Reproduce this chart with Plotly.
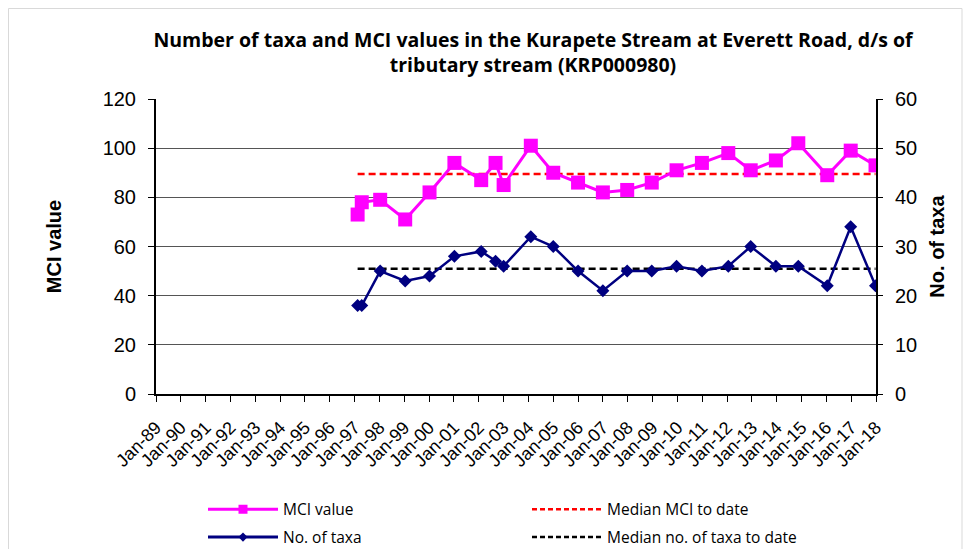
import plotly.graph_objects as go

sample_dates = [
    "1997-02-14", "1997-04-16", "1998-01-12", "1999-01-15", "2000-01-08",
    "2001-01-08", "2002-02-06", "2002-09-05", "2003-01-02", "2004-02-06",
    "2005-01-01", "2006-01-01", "2007-01-01", "2007-12-25", "2008-12-20",
    "2009-12-20", "2010-12-28", "2012-01-20", "2012-12-15", "2013-12-20",
    "2014-11-15", "2016-01-15", "2016-12-25", "2017-12-25",
]
mci_values = [73, 78, 79, 71, 82, 94, 87, 94, 85, 101, 90, 86, 82, 83, 86,
              91, 94, 98, 91, 95, 102, 89, 99, 93]
taxa_values = [18, 18, 25, 23, 24, 28, 29, 27, 26, 32, 30, 25, 21, 25, 25,
               26, 25, 26, 30, 26, 26, 22, 34, 22]
median_mci = 89.5
median_taxa = 25.5

tick_dates = [f"{y}-01-01" for y in range(1989, 2019)]
tick_labels = ["Jan-89", "Jan-90", "Jan-91", "Jan-92", "Jan-93", "Jan-94",
               "Jan-95", "Jan-96", "Jan-97", "Jan-98", "Jan-99", "Jan-00",
               "Jan-01", "Jan-02", "Jan-03", "Jan-04", "Jan-05", "Jan-06",
               "Jan-07", "Jan-08", "Jan-09", "Jan-10", "Jan-11", "Jan-12",
               "Jan-13", "Jan-14", "Jan-15", "Jan-16", "Jan-17", "Jan-18"]

MAGENTA = "#FF00FF"
NAVY = "#000080"
RED = "#FF0000"
BLACK = "#000000"
DASH = "7px,4px"

fig = go.Figure()

# median lines
fig.add_trace(go.Scatter(x=[sample_dates[0], sample_dates[-1]], y=[median_mci, median_mci],
                         mode="lines", line=dict(color=RED, width=2.5, dash=DASH),
                         showlegend=False, yaxis="y"))
fig.add_trace(go.Scatter(x=[sample_dates[0], sample_dates[-1]], y=[median_taxa, median_taxa],
                         mode="lines", line=dict(color=BLACK, width=2.5, dash=DASH),
                         showlegend=False, yaxis="y2"))
# data series
fig.add_trace(go.Scatter(x=sample_dates, y=mci_values, mode="lines+markers",
                         line=dict(color=MAGENTA, width=3),
                         marker=dict(symbol="square", size=14, color=MAGENTA),
                         showlegend=False, yaxis="y"))
fig.add_trace(go.Scatter(x=sample_dates, y=taxa_values, mode="lines+markers",
                         line=dict(color=NAVY, width=2.5),
                         marker=dict(symbol="diamond", size=10, color=NAVY),
                         showlegend=False, yaxis="y2"))

# legend entries
fig.add_trace(go.Scatter(x=[None], y=[None], mode="lines+markers", name="MCI value",
                         line=dict(color=MAGENTA, width=3),
                         marker=dict(symbol="square", size=9, color=MAGENTA),
                         legend="legend"))
fig.add_trace(go.Scatter(x=[None], y=[None], mode="lines", name="Median MCI to date",
                         line=dict(color=RED, width=2.5, dash="5px,3px"), legend="legend"))
fig.add_trace(go.Scatter(x=[None], y=[None], mode="lines+markers", name="No. of taxa",
                         line=dict(color=NAVY, width=3),
                         marker=dict(symbol="diamond", size=7, color=NAVY),
                         legend="legend2"))
fig.add_trace(go.Scatter(x=[None], y=[None], mode="lines", name="Median no. of taxa to date",
                         line=dict(color=BLACK, width=2.5, dash="5px,3px"), legend="legend2"))

tick_font = dict(family="Liberation Sans, Arial, sans-serif", size=20, color="black")
title_font = dict(family="Liberation Sans, Arial, sans-serif", size=20, color="black")
legend_font = dict(family="Open Sans, sans-serif", size=15.5, color="black")

# page has an 8px body margin; figure coordinates = screen - 8
W, H = 963, 541
L, T = 148, 91
R = W - 868
B = H - 386
pw = W - L - R
ph = H - T - B

legend_common = dict(orientation="h", entrywidth=239, entrywidthmode="pixels",
                     itemwidth=70, font=legend_font, bgcolor="rgba(0,0,0,0)",
                     xref="container", yref="container",
                     xanchor="left", yanchor="middle", x=195 / W,
                     traceorder="normal", itemclick=False)

fig.update_layout(
    width=W, height=H,
    margin=dict(l=L, r=R, t=T, b=B),
    paper_bgcolor="white", plot_bgcolor="white",
    title=dict(text="<b>Number of taxa and MCI values in the Kurapete Stream at Everett Road, d/s of<br>tributary stream (KRP000980)</b>",
               x=525 / W, xanchor="center", y=1 - 38.5 / H, yanchor="middle",
               font=dict(family="Open Sans, sans-serif", size=19.5, color="black")),
    xaxis=dict(type="date", range=["1989-01-01", "2018-01-01"], automargin=False,
               tickvals=tick_dates, ticktext=tick_labels, tickangle=-45,
               tickfont=dict(family="Liberation Sans, Arial, sans-serif", size=18, color="black"),
               ticklabelstandoff=8,
               showline=True, linecolor=BLACK, linewidth=2,
               ticks="outside", ticklen=6, tickcolor=BLACK, tickwidth=1,
               showgrid=False, zeroline=False),
    yaxis=dict(range=[0, 120], dtick=20, tickfont=tick_font, automargin=False,
               ticklabelstandoff=8,
               title=dict(text="<b>MCI value</b>", font=title_font, standoff=36),
               showline=True, linecolor=BLACK, linewidth=2,
               ticks="outside", ticklen=6, tickcolor=BLACK, tickwidth=1,
               showgrid=True, gridcolor="#555555", gridwidth=1, zeroline=False),
    yaxis2=dict(range=[0, 60], dtick=10, tickfont=tick_font, overlaying="y", side="right",
                automargin=False, ticklabelstandoff=8,
                title=dict(text="<b>No. of taxa</b>", font=title_font, standoff=14),
                showline=True, linecolor=BLACK, linewidth=2,
                ticks="outside", ticklen=5, tickcolor=BLACK, tickwidth=1,
                showgrid=False, zeroline=False),
    legend=dict(**legend_common, y=1 - 501.6 / H),
    legend2=dict(**legend_common, y=1 - 529.5 / H),
    shapes=[dict(type="rect", xref="paper", yref="paper",
                 x0=(0.5 - L) / pw, x1=(954 - L) / pw,
                 y0=-(H + 10 - (H - B)) / ph, y1=1 + (T - 0.5) / ph,
                 line=dict(color="#D9D9D9", width=1), fillcolor="rgba(0,0,0,0)",
                 layer="below")],
)

fig.write_html("out.html")
